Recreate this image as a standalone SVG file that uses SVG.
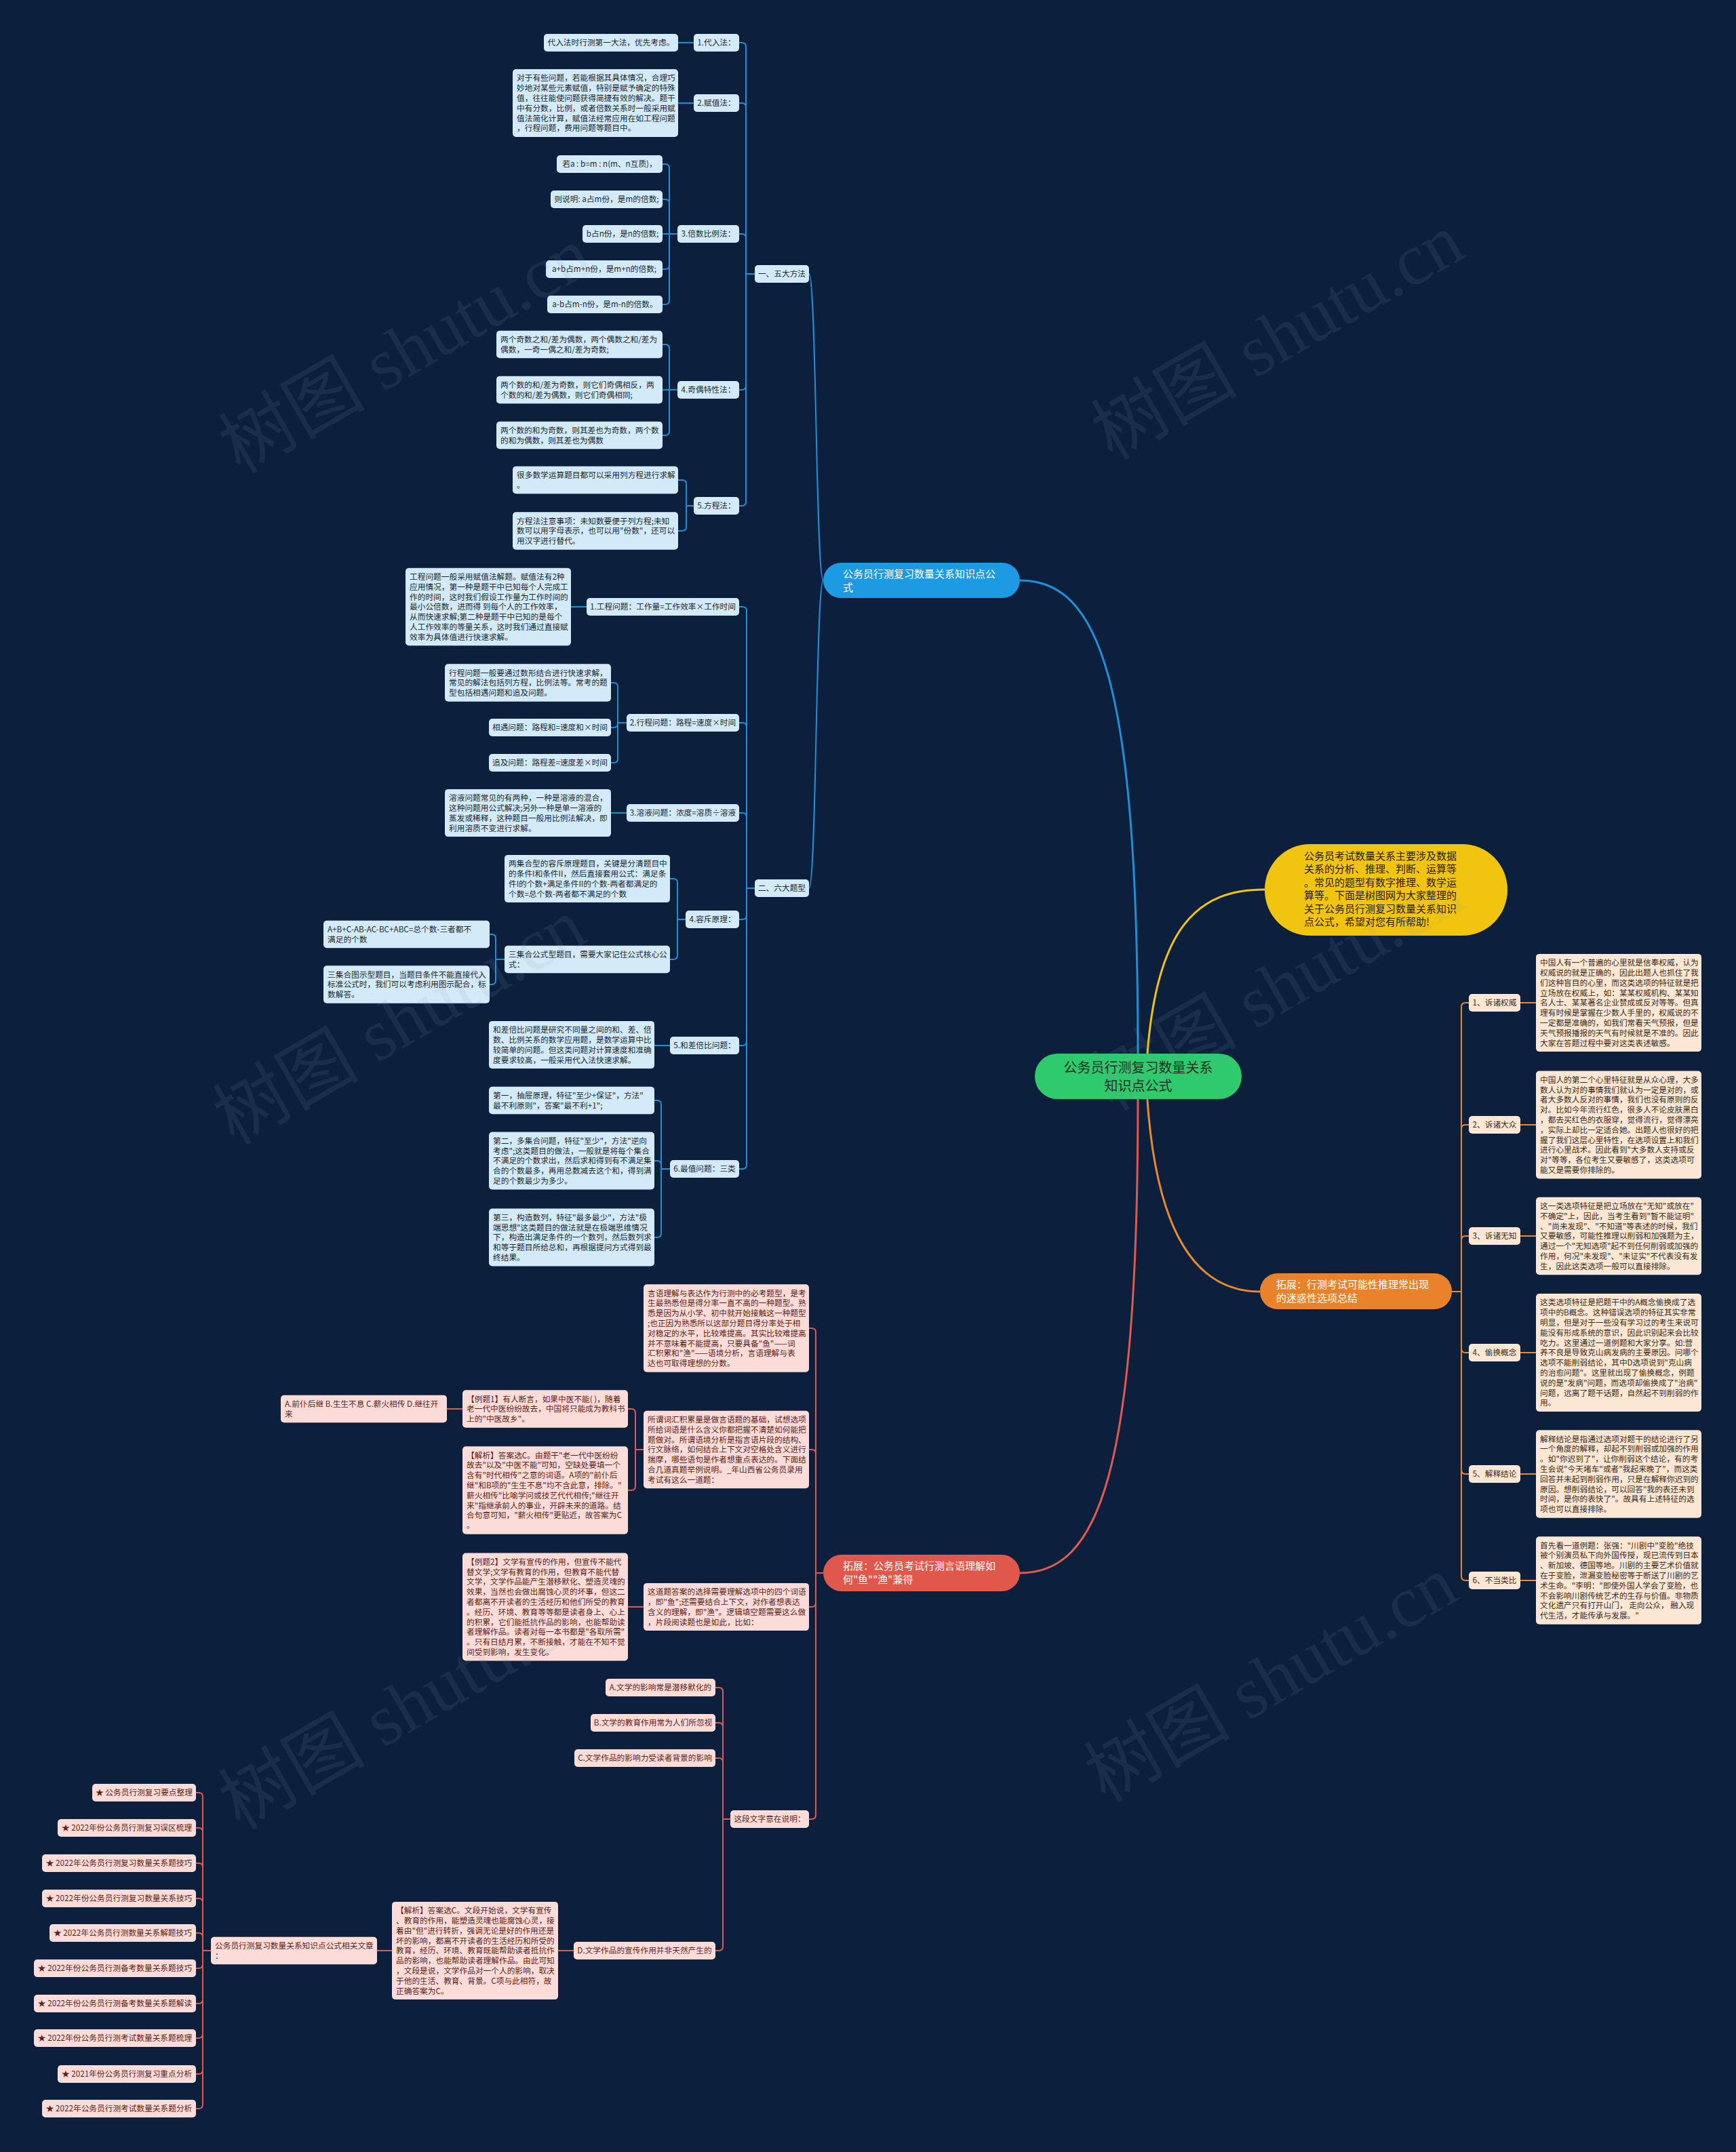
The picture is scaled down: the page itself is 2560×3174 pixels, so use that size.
<svg xmlns="http://www.w3.org/2000/svg" width="2560" height="3174" viewBox="0 0 2560 3174">
<style>
text{font-family:"Noto Sans CJK SC","Noto Sans",sans-serif}
.t{font-size:11.7px;fill:#1c2733}
.to{font-size:11.7px;fill:#3d2a17}
.tr{font-size:11.7px;fill:#5e1e17}
.c{text-anchor:middle}
.bb{fill:#d3ebf8}
.ob{fill:#fbe7d3}
.rb{fill:#fcdcd8}
.lb{fill:none;stroke:#1f8fd6;stroke-width:2}
.lo{fill:none;stroke:#e8892f;stroke-width:2}
.lr{fill:none;stroke:#df5a4e;stroke-width:2}
.main{fill:none;stroke-width:3}
.wm{font-family:"Liberation Serif","Noto Sans CJK SC",serif;font-size:108px;fill:#8a98ab;opacity:0.11}
</style>
<rect x="0" y="0" width="2560" height="3174" fill="#0c203d"/>

<g id="connectors">
<path class="main" stroke="#1f8fd6" d="M1678 1587L1678 1554C1678 1000 1620 856 1504 856"/>
<path class="main" stroke="#df5a4e" d="M1678 1587L1678 1621C1678 2175 1620 2320 1504 2320"/>
<path class="main" stroke="#f1c40f" d="M1690 1587C1700 1360 1770 1312 1865 1312"/>
<path class="main" stroke="#e8892f" d="M1690 1587C1700 1830 1770 1905 1858 1905"/>
<path class="lb" d="M1214 856C1203 856 1204 404 1193 404"/>
<path class="lb" d="M1214 856C1203 856 1204 1310 1193 1310"/>
<path class="lb" d="M1113 404H1100V69Q1100 63 1094 63H1090M1113 404H1100V158Q1100 152 1094 152H1090M1113 404H1100V351Q1100 345 1094 345H1090M1113 404H1100V569Q1100 575 1094 575H1090M1113 404H1100V740Q1100 746 1094 746H1090"/>
<path class="lb" d="M1023 63H1000M1023 152H1000"/>
<path class="lb" d="M999 345H987V248Q987 242 981 242H977M999 345H987V300Q987 294 981 294H977M999 345H977M999 345H987V391Q987 397 981 397H977M999 345H987V443Q987 449 981 449H977"/>
<path class="lb" d="M999 575H987V514Q987 508 981 508H977M999 575H977M999 575H987V636Q987 642 981 642H977"/>
<path class="lb" d="M1023 746H1012V714Q1012 708 1006 708H1000M1023 746H1012V777Q1012 783 1006 783H1000"/>
<path class="lb" d="M1113 1310H1101V901Q1101 895 1095 895H1090M1113 1310H1101V1072Q1101 1066 1095 1066H1090M1113 1310H1101V1205Q1101 1199 1095 1199H1090M1113 1310H1101V1350Q1101 1356 1095 1356H1090M1113 1310H1101V1536Q1101 1542 1095 1542H1090M1113 1310H1101V1718Q1101 1724 1095 1724H1090"/>
<path class="lb" d="M865 895H842"/>
<path class="lb" d="M924 1066H911V1013Q911 1007 905 1007H901M924 1066H911V1067Q911 1073 905 1073H901M924 1066H911V1119Q911 1125 905 1125H901"/>
<path class="lb" d="M924 1199H901"/>
<path class="lb" d="M1011 1356H999V1302Q999 1296 993 1296H988M1011 1356H999V1409Q999 1415 993 1415H988"/>
<path class="lb" d="M744 1415H731V1384Q731 1378 725 1378H722M744 1415H731V1446Q731 1452 725 1452H722"/>
<path class="lb" d="M988 1542H965"/>
<path class="lb" d="M988 1724H975V1629Q975 1623 969 1623H965M988 1724H975V1718Q975 1712 969 1712H965M988 1724H975V1819Q975 1825 969 1825H965"/>
<path class="lo" d="M2141 1905H2155V1485Q2155 1479 2161 1479H2166M2141 1905H2155V1665Q2155 1659 2161 1659H2166M2141 1905H2155V1829Q2155 1823 2161 1823H2166M2141 1905H2155V1989Q2155 1995 2161 1995H2166M2141 1905H2155V2168Q2155 2174 2161 2174H2166M2141 1905H2155V2325Q2155 2331 2161 2331H2166"/>
<path class="lo" d="M2242 1479H2265M2242 1659H2265M2242 1823H2265M2242 1995H2265M2242 2174H2265M2242 2331H2265"/>
<path class="lr" d="M1214 2320H1203V1965Q1203 1959 1197 1959H1193M1214 2320H1203V2144Q1203 2138 1197 2138H1193M1214 2320H1203V2364Q1203 2370 1197 2370H1193M1214 2320H1203V2677Q1203 2683 1197 2683H1193"/>
<path class="lr" d="M949 2138H937V2084Q937 2078 931 2078H926M949 2138H937V2192Q937 2198 931 2198H926"/>
<path class="lr" d="M682 2078H659M949 2370H926"/>
<path class="lr" d="M1077 2683H1066V2495Q1066 2489 1060 2489H1055M1077 2683H1066V2547Q1066 2541 1060 2541H1055M1077 2683H1066V2599Q1066 2593 1060 2593H1055M1077 2683H1066V2871Q1066 2877 1060 2877H1055"/>
<path class="lr" d="M846 2877H823M578 2877H556"/>
<path class="lr" d="M311 2877H299V2650Q299 2644 293 2644H289M311 2877H299V2702Q299 2696 293 2696H289M311 2877H299V2754Q299 2748 293 2748H289M311 2877H299V2806Q299 2800 293 2800H289M311 2877H299V2857Q299 2851 293 2851H289M311 2877H299V2897Q299 2903 293 2903H289M311 2877H299V2949Q299 2955 293 2955H289M311 2877H299V3000Q299 3006 293 3006H289M311 2877H299V3053Q299 3059 293 3059H289M311 2877H299V3104Q299 3110 293 3110H289"/>
</g>

<g id="center">
<rect x="1526" y="1554" width="305" height="67" rx="33" fill="#2fca6d"/>
<text class="c" x="1678.5" y="1582" font-size="20" fill="#16301e">公务员行测复习数量关系</text>
<text class="c" x="1678.5" y="1609" font-size="20" fill="#16301e">知识点公式</text>
</g>
<g id="intro">
<rect x="1865" y="1245" width="358" height="135" rx="67" fill="#f1c40f"/>
<text x="1923" y="1268" font-size="15" fill="#2a2000"><tspan x="1923" dy="0">公务员考试数量关系主要涉及数据</tspan><tspan x="1923" dy="19.4">关系的分析、推理、判断、运算等</tspan><tspan x="1923" dy="19.4">。常见的题型有数字推理、数学运</tspan><tspan x="1923" dy="19.4">算等。下面是树图网为大家整理的</tspan><tspan x="1923" dy="19.4">关于公务员行测复习数量关系知识</tspan><tspan x="1923" dy="19.4">点公式，希望对您有所帮助!</tspan></text>
</g>
<g id="blue-main">
<rect x="1214" y="830" width="290" height="52" rx="26" fill="#1d9be2"/>
<text x="1243" y="851.7" font-size="15" fill="#ffffff">公务员行测复习数量关系知识点公</text>
<text x="1243" y="871.7" font-size="15" fill="#ffffff">式</text>
</g>
<g id="orange-main">
<rect x="1858" y="1878" width="283" height="53" rx="26" fill="#e8832b"/>
<text x="1882" y="1899.7" font-size="15" fill="#ffffff">拓展：行测考试可能性推理常出现</text>
<text x="1882" y="1919.7" font-size="15" fill="#ffffff">的迷惑性选项总结</text>
</g>
<g id="red-main">
<rect x="1214" y="2293" width="290" height="54" rx="27" fill="#e0584c"/>
<text x="1243" y="2315.4" font-size="15" fill="#ffffff">拓展：公务员考试行测言语理解如</text>
<text x="1243" y="2335.4" font-size="15" fill="#ffffff">何"鱼""渔"兼得</text>
</g>

<g id="b-five"><rect class="bb" x="1113" y="391" width="80" height="26" rx="5"/><text class="t c" x="1153" y="408.4">一、五大方法</text></g>
<g id="b1"><rect class="bb" x="1023" y="50" width="67" height="26" rx="5"/><text class="t c" x="1056.5" y="67.4">1.代入法：</text></g>
<g id="b1t"><rect class="bb" x="802" y="50" width="198" height="26" rx="5"/><text class="t c" x="901" y="67.4">代入法时行测第一大法，优先考虑。</text></g>
<g id="b2"><rect class="bb" x="1023" y="139" width="67" height="26" rx="5"/><text class="t c" x="1056.5" y="156.4">2.赋值法：</text></g>
<g id="b2t"><rect class="bb" x="756" y="102.1" width="244" height="99.8" rx="5"/><text class="t" x="762" y="119.4"><tspan x="762" dy="0">对于有些问题，若能根据其具体情况，合理巧</tspan><tspan x="762" dy="14.8">妙地对某些元素赋值，特别是赋予确定的特殊</tspan><tspan x="762" dy="14.8">值，往往能使问题获得简捷有效的解决。题干</tspan><tspan x="762" dy="14.8">中有分数，比例，或者倍数关系时一般采用赋</tspan><tspan x="762" dy="14.8">值法简化计算，赋值法经常应用在如工程问题</tspan><tspan x="762" dy="14.8">，行程问题，费用问题等题目中。</tspan></text></g>
<g id="b3"><rect class="bb" x="999" y="332" width="91" height="26" rx="5"/><text class="t c" x="1044.5" y="349.4">3.倍数比例法：</text></g>
<g id="b3a"><rect class="bb" x="821" y="229" width="156" height="26" rx="5"/><text class="t c" x="899" y="246.4">若a : b=m : n(m、n互质)，</text></g>
<g id="b3b"><rect class="bb" x="812" y="281" width="165" height="26" rx="5"/><text class="t c" x="894.5" y="298.4">则说明: a占m份，是m的倍数;</text></g>
<g id="b3c"><rect class="bb" x="859" y="332" width="118" height="26" rx="5"/><text class="t c" x="918" y="349.4">b占n份，是n的倍数;</text></g>
<g id="b3d"><rect class="bb" x="805" y="384" width="172" height="26" rx="5"/><text class="t c" x="891" y="401.4">a+b占m+n份，是m+n的倍数;</text></g>
<g id="b3e"><rect class="bb" x="807" y="436" width="170" height="26" rx="5"/><text class="t c" x="892" y="453.4">a-b占m-n份，是m-n的倍数。</text></g>
<g id="b4"><rect class="bb" x="999" y="562" width="91" height="26" rx="5"/><text class="t c" x="1044.5" y="579.4">4.奇偶特性法：</text></g>
<g id="b4a"><rect class="bb" x="732" y="487.7" width="245" height="40.6" rx="5"/><text class="t" x="738" y="505"><tspan x="738" dy="0">两个奇数之和/差为偶数，两个偶数之和/差为</tspan><tspan x="738" dy="14.8">偶数，一奇一偶之和/差为奇数;</tspan></text></g>
<g id="b4b"><rect class="bb" x="732" y="554.7" width="245" height="40.6" rx="5"/><text class="t" x="738" y="572"><tspan x="738" dy="0">两个数的和/差为奇数，则它们奇偶相反，两</tspan><tspan x="738" dy="14.8">个数的和/差为偶数，则它们奇偶相同;</tspan></text></g>
<g id="b4c"><rect class="bb" x="732" y="621.7" width="245" height="40.6" rx="5"/><text class="t" x="738" y="639"><tspan x="738" dy="0">两个数的和为奇数，则其差也为奇数，两个数</tspan><tspan x="738" dy="14.8">的和为偶数，则其差也为偶数</tspan></text></g>
<g id="b5"><rect class="bb" x="1023" y="733" width="67" height="26" rx="5"/><text class="t c" x="1056.5" y="750.4">5.方程法：</text></g>
<g id="b5a"><rect class="bb" x="756" y="687.7" width="244" height="40.6" rx="5"/><text class="t" x="762" y="705"><tspan x="762" dy="0">很多数学运算题目都可以采用列方程进行求解</tspan><tspan x="762" dy="14.8">。</tspan></text></g>
<g id="b5b"><rect class="bb" x="756" y="755.3" width="244" height="55.4" rx="5"/><text class="t" x="762" y="772.6"><tspan x="762" dy="0">方程法注意事项：未知数要便于列方程;未知</tspan><tspan x="762" dy="14.8">数可以用字母表示，也可以用"份数"，还可以</tspan><tspan x="762" dy="14.8">用汉字进行替代。</tspan></text></g>

<g id="b-six"><rect class="bb" x="1113" y="1297" width="80" height="26" rx="5"/><text class="t c" x="1153" y="1314.4">二、六大题型</text></g>
<g id="s1"><rect class="bb" x="865" y="882" width="225" height="26" rx="5"/><text class="t c" x="977.5" y="899.4">1.工程问题：工作量=工作效率×工作时间</text></g>
<g id="s1t"><rect class="bb" x="598" y="837.7" width="244" height="114.6" rx="5"/><text class="t" x="604" y="855"><tspan x="604" dy="0">工程问题一般采用赋值法解题。赋值法有2种</tspan><tspan x="604" dy="14.8">应用情况，第一种是题干中已知每个人完成工</tspan><tspan x="604" dy="14.8">作的时间，这时我们假设工作量为工作时间的</tspan><tspan x="604" dy="14.8">最小公倍数，进而得 到每个人的工作效率，</tspan><tspan x="604" dy="14.8">从而快速求解;第二种是题干中已知的是每个</tspan><tspan x="604" dy="14.8">人工作效率的等量关系，这时我们通过直接赋</tspan><tspan x="604" dy="14.8">效率为具体值进行快速求解。</tspan></text></g>
<g id="s2"><rect class="bb" x="924" y="1053" width="166" height="26" rx="5"/><text class="t c" x="1007" y="1070.4">2.行程问题：路程=速度×时间</text></g>
<g id="s2a"><rect class="bb" x="656" y="979.3" width="245" height="55.4" rx="5"/><text class="t" x="662" y="996.6"><tspan x="662" dy="0">行程问题一般要通过数形结合进行快速求解，</tspan><tspan x="662" dy="14.8">常见的解法包括列方程，比例法等。常考的题</tspan><tspan x="662" dy="14.8">型包括相遇问题和追及问题。</tspan></text></g>
<g id="s2b"><rect class="bb" x="721" y="1060" width="180" height="26" rx="5"/><text class="t c" x="811" y="1077.4">相遇问题：路程和=速度和×时间</text></g>
<g id="s2c"><rect class="bb" x="721" y="1112" width="180" height="26" rx="5"/><text class="t c" x="811" y="1129.4">追及问题：路程差=速度差×时间</text></g>
<g id="s3"><rect class="bb" x="924" y="1186" width="166" height="26" rx="5"/><text class="t c" x="1007" y="1203.4">3.溶液问题：浓度=溶质÷溶液</text></g>
<g id="s3t"><rect class="bb" x="656" y="1163.9" width="245" height="70.2" rx="5"/><text class="t" x="662" y="1181.2"><tspan x="662" dy="0">溶液问题常见的有两种，一种是溶液的混合，</tspan><tspan x="662" dy="14.8">这种问题用公式解决;另外一种是单一溶液的</tspan><tspan x="662" dy="14.8">蒸发或稀释，这种题目一般用比例法解决，即</tspan><tspan x="662" dy="14.8">利用溶质不变进行求解。</tspan></text></g>
<g id="s4"><rect class="bb" x="1011" y="1343" width="79" height="26" rx="5"/><text class="t c" x="1050.5" y="1360.4">4.容斥原理：</text></g>
<g id="s4a"><rect class="bb" x="744" y="1260.9" width="244" height="70.2" rx="5"/><text class="t" x="750" y="1278.2"><tspan x="750" dy="0">两集合型的容斥原理题目，关键是分清题目中</tspan><tspan x="750" dy="14.8">的条件I和条件II，然后直接套用公式：满足条</tspan><tspan x="750" dy="14.8">件I的个数+满足条件II的个数-两者都满足的</tspan><tspan x="750" dy="14.8">个数=总个数-两者都不满足的个数</tspan></text></g>
<g id="s4b"><rect class="bb" x="744" y="1394.7" width="244" height="40.6" rx="5"/><text class="t" x="750" y="1412"><tspan x="750" dy="0">三集合公式型题目，需要大家记住公式核心公</tspan><tspan x="750" dy="14.8">式：</tspan></text></g>
<g id="s4b1"><rect class="bb" x="477" y="1357.7" width="245" height="40.6" rx="5"/><text class="t" x="483" y="1375"><tspan x="483" dy="0">A+B+C-AB-AC-BC+ABC=总个数-三者都不</tspan><tspan x="483" dy="14.8">满足的个数</tspan></text></g>
<g id="s4b2"><rect class="bb" x="477" y="1424.3" width="245" height="55.4" rx="5"/><text class="t" x="483" y="1441.6"><tspan x="483" dy="0">三集合图示型题目，当题目条件不能直接代入</tspan><tspan x="483" dy="14.8">标准公式时，我们可以考虑利用图示配合，标</tspan><tspan x="483" dy="14.8">数解答。</tspan></text></g>
<g id="s5"><rect class="bb" x="988" y="1529" width="102" height="26" rx="5"/><text class="t c" x="1039" y="1546.4">5.和差倍比问题：</text></g>
<g id="s5t"><rect class="bb" x="721" y="1505.9" width="244" height="70.2" rx="5"/><text class="t" x="727" y="1523.2"><tspan x="727" dy="0">和差倍比问题是研究不同量之间的和、差、倍</tspan><tspan x="727" dy="14.8">数、比例关系的数学应用题，是数学运算中比</tspan><tspan x="727" dy="14.8">较简单的问题。但这类问题对计算速度和准确</tspan><tspan x="727" dy="14.8">度要求较高，一般采用代入法快速求解。</tspan></text></g>
<g id="s6"><rect class="bb" x="988" y="1711" width="102" height="26" rx="5"/><text class="t c" x="1039" y="1728.4">6.最值问题：三类</text></g>
<g id="s6a"><rect class="bb" x="721" y="1602.7" width="244" height="40.6" rx="5"/><text class="t" x="727" y="1620"><tspan x="727" dy="0">第一，抽屉原理，特征"至少+保证"，方法"</tspan><tspan x="727" dy="14.8">最不利原则"，答案"最不利+1";</tspan></text></g>
<g id="s6b"><rect class="bb" x="721" y="1669.5" width="244" height="85" rx="5"/><text class="t" x="727" y="1686.8"><tspan x="727" dy="0">第二，多集合问题，特征"至少"，方法"逆向</tspan><tspan x="727" dy="14.8">考虑";这类题目的做法，一般就是将每个集合</tspan><tspan x="727" dy="14.8">不满足的个数求出，然后求和得到有不满足集</tspan><tspan x="727" dy="14.8">合的个数最多，再用总数减去这个和，得到满</tspan><tspan x="727" dy="14.8">足的个数最少为多少。</tspan></text></g>
<g id="s6c"><rect class="bb" x="721" y="1782.5" width="244" height="85" rx="5"/><text class="t" x="727" y="1799.8"><tspan x="727" dy="0">第三，构造数列，特征"最多最少"，方法"极</tspan><tspan x="727" dy="14.8">端思想"这类题目的做法就是在极端思维情况</tspan><tspan x="727" dy="14.8">下，构造出满足条件的一个数列，然后数列求</tspan><tspan x="727" dy="14.8">和等于题目所给总和，再根据提问方式得到最</tspan><tspan x="727" dy="14.8">终结果。</tspan></text></g>

<g id="o1"><rect class="ob" x="2166" y="1466" width="76" height="26" rx="5"/><text class="to c" x="2204" y="1483.4">1、诉诸权威</text></g>
<g id="o1t"><rect class="ob" x="2265" y="1406.9" width="244" height="144.2" rx="5"/><text class="to" x="2271" y="1424.2"><tspan x="2271" dy="0">中国人有一个普遍的心里就是信奉权威，认为</tspan><tspan x="2271" dy="14.8">权威说的就是正确的，因此出题人也抓住了我</tspan><tspan x="2271" dy="14.8">们这种盲目的心里，而这类选项的特征就是把</tspan><tspan x="2271" dy="14.8">立场放在权威上，如：某某权威机构、某某知</tspan><tspan x="2271" dy="14.8">名人士、某某著名企业赞成或反对等等。但真</tspan><tspan x="2271" dy="14.8">理有时候是掌握在少数人手里的，权威说的不</tspan><tspan x="2271" dy="14.8">一定都是准确的，如我们常看天气预报，但是</tspan><tspan x="2271" dy="14.8">天气预报播报的天气有时候就是不准的。因此</tspan><tspan x="2271" dy="14.8">大家在答题过程中要对这类表述敏感。</tspan></text></g>
<g id="o2"><rect class="ob" x="2166" y="1646" width="76" height="26" rx="5"/><text class="to c" x="2204" y="1663.4">2、诉诸大众</text></g>
<g id="o2t"><rect class="ob" x="2265" y="1579.5" width="244" height="159" rx="5"/><text class="to" x="2271" y="1596.8"><tspan x="2271" dy="0">中国人的第二个心里特征就是从众心理，大多</tspan><tspan x="2271" dy="14.8">数人认为对的事情我们就认为一定是对的，或</tspan><tspan x="2271" dy="14.8">者大多数人反对的事情，我们也没有原则的反</tspan><tspan x="2271" dy="14.8">对。比如今年流行红色，很多人不论皮肤黑白</tspan><tspan x="2271" dy="14.8">，都去买红色的衣服穿，觉得流行，觉得漂亮</tspan><tspan x="2271" dy="14.8">，实际上却比一定适合她。出题人也很好的把</tspan><tspan x="2271" dy="14.8">握了我们这层心里特性，在选项设置上和我们</tspan><tspan x="2271" dy="14.8">进行心里战术。因此看到"大多数人支持或反</tspan><tspan x="2271" dy="14.8">对"等等，各位考生又要敏感了，这类选项可</tspan><tspan x="2271" dy="14.8">能又是需要你排除的。</tspan></text></g>
<g id="o3"><rect class="ob" x="2166" y="1810" width="76" height="26" rx="5"/><text class="to c" x="2204" y="1827.4">3、诉诸无知</text></g>
<g id="o3t"><rect class="ob" x="2265" y="1765.7" width="244" height="114.6" rx="5"/><text class="to" x="2271" y="1783"><tspan x="2271" dy="0">这一类选项特征是把立场放在"无知"或放在"</tspan><tspan x="2271" dy="14.8">不确定"上，因此，当考生看到"暂不能证明"</tspan><tspan x="2271" dy="14.8">、"尚未发现"、"不知道"等表述的时候，我们</tspan><tspan x="2271" dy="14.8">又要敏感，可能性推理以削弱和加强题为主，</tspan><tspan x="2271" dy="14.8">通过一个"无知选项"起不到任何削弱或加强的</tspan><tspan x="2271" dy="14.8">作用，何况"未发现"、"未证实"不代表没有发</tspan><tspan x="2271" dy="14.8">生，因此这类选项一般可以直接排除。</tspan></text></g>
<g id="o4"><rect class="ob" x="2166" y="1982" width="76" height="26" rx="5"/><text class="to c" x="2204" y="1999.4">4、偷换概念</text></g>
<g id="o4t"><rect class="ob" x="2265" y="1908.1" width="244" height="173.8" rx="5"/><text class="to" x="2271" y="1925.4"><tspan x="2271" dy="0">这类选项特征是把题干中的A概念偷换成了选</tspan><tspan x="2271" dy="14.8">项中的B概念。这种错误选项的特征其实非常</tspan><tspan x="2271" dy="14.8">明显，但是对于一些没有学习过的考生来说可</tspan><tspan x="2271" dy="14.8">能没有形成系统的意识，因此识别起来会比较</tspan><tspan x="2271" dy="14.8">吃力。这里通过一道例题和大家分享。如:营</tspan><tspan x="2271" dy="14.8">养不良是导致克山病发病的主要原因。问哪个</tspan><tspan x="2271" dy="14.8">选项不能削弱结论，其中D选项说到"克山病</tspan><tspan x="2271" dy="14.8">的治愈问题"。这里就出现了偷换概念，例题</tspan><tspan x="2271" dy="14.8">说的是"发病"问题，而选项却偷换成了"治病"</tspan><tspan x="2271" dy="14.8">问题，远离了题干话题，自然起不到削弱的作</tspan><tspan x="2271" dy="14.8">用。</tspan></text></g>
<g id="o5"><rect class="ob" x="2166" y="2161" width="76" height="26" rx="5"/><text class="to c" x="2204" y="2178.4">5、解释结论</text></g>
<g id="o5t"><rect class="ob" x="2265" y="2109.3" width="244" height="129.4" rx="5"/><text class="to" x="2271" y="2126.6"><tspan x="2271" dy="0">解释结论是指通过选项对题干的结论进行了另</tspan><tspan x="2271" dy="14.8">一个角度的解释，却起不到削弱或加强的作用</tspan><tspan x="2271" dy="14.8">。如"你迟到了"，让你削弱这个结论，有的考</tspan><tspan x="2271" dy="14.8">生会说"今天堵车"或者"我起来晚了"，而这类</tspan><tspan x="2271" dy="14.8">回答并未起到削弱作用，只是在解释你迟到的</tspan><tspan x="2271" dy="14.8">原因。想削弱结论，可以回答"我的表还未到</tspan><tspan x="2271" dy="14.8">时间，是你的表快了"。故具有上述特征的选</tspan><tspan x="2271" dy="14.8">项也可以直接排除。</tspan></text></g>
<g id="o6"><rect class="ob" x="2166" y="2318" width="76" height="26" rx="5"/><text class="to c" x="2204" y="2335.4">6、不当类比</text></g>
<g id="o6t"><rect class="ob" x="2265" y="2266.3" width="244" height="129.4" rx="5"/><text class="to" x="2271" y="2283.6"><tspan x="2271" dy="0">首先看一道例题：张强："川剧中"变脸"绝技</tspan><tspan x="2271" dy="14.8">被个别演员私下向外国传授，现已流传到日本</tspan><tspan x="2271" dy="14.8">、新加坡、德国等地。川剧的主要艺术价值就</tspan><tspan x="2271" dy="14.8">在于变脸，泄漏变脸秘密等于断送了川剧的艺</tspan><tspan x="2271" dy="14.8">术生命。"李明："即使外国人学会了变脸，也</tspan><tspan x="2271" dy="14.8">不会影响川剧传统艺术的生存与价值。非物质</tspan><tspan x="2271" dy="14.8">文化遗产只有打开山门， 走向公众， 融入现</tspan><tspan x="2271" dy="14.8">代生活，才能传承与发展。"</tspan></text></g>

<g id="r1"><rect class="rb" x="949" y="1894.3" width="244" height="129.4" rx="5"/><text class="tr" x="955" y="1911.6"><tspan x="955" dy="0">言语理解与表达作为行测中的必考题型，是考</tspan><tspan x="955" dy="14.8">生最熟悉但是得分率一直不高的一种题型。熟</tspan><tspan x="955" dy="14.8">悉是因为从小学、初中就开始接触这一种题型</tspan><tspan x="955" dy="14.8">;也正因为熟悉所以这部分题目得分率处于相</tspan><tspan x="955" dy="14.8">对稳定的水平，比较难提高。其实比较难提高</tspan><tspan x="955" dy="14.8">并不意味着不能提高，只要具备"鱼"——词</tspan><tspan x="955" dy="14.8">汇积累和"渔"——语境分析，言语理解与表</tspan><tspan x="955" dy="14.8">达也可取得理想的分数。</tspan></text></g>
<g id="r2"><rect class="rb" x="949" y="2080.7" width="244" height="114.6" rx="5"/><text class="tr" x="955" y="2098"><tspan x="955" dy="0">所谓词汇积累量是做言语题的基础，试想选项</tspan><tspan x="955" dy="14.8">所给词语是什么含义你都把握不清楚如何能把</tspan><tspan x="955" dy="14.8">题做对。所谓语境分析是指言语片段的结构、</tspan><tspan x="955" dy="14.8">行文脉络，如何结合上下文对空格处含义进行</tspan><tspan x="955" dy="14.8">揣摩，哪些语句是作者想重点表达的。下面结</tspan><tspan x="955" dy="14.8">合几道真题举例说明。_年山西省公务员录用</tspan><tspan x="955" dy="14.8">考试有这么一道题：</tspan></text></g>
<g id="r2a"><rect class="rb" x="682" y="2050.3" width="244" height="55.4" rx="5"/><text class="tr" x="688" y="2067.6"><tspan x="688" dy="0">【例题1】有人断言，如果中医不能( )，随着</tspan><tspan x="688" dy="14.8">老一代中医纷纷故去，中国将只能成为教科书</tspan><tspan x="688" dy="14.8">上的"中医故乡"。</tspan></text></g>
<g id="r2a1"><rect class="rb" x="414" y="2057.7" width="245" height="40.6" rx="5"/><text class="tr" x="420" y="2075"><tspan x="420" dy="0">A.前仆后继 B.生生不息 C.薪火相传 D.继往开</tspan><tspan x="420" dy="14.8">来</tspan></text></g>
<g id="r2b"><rect class="rb" x="682" y="2133.3" width="244" height="129.4" rx="5"/><text class="tr" x="688" y="2150.6"><tspan x="688" dy="0">【解析】答案选C。由题干"老一代中医纷纷</tspan><tspan x="688" dy="14.8">故去"以及"中医不能"可知，空缺处要填一个</tspan><tspan x="688" dy="14.8">含有"时代相传"之意的词语。A项的"前仆后</tspan><tspan x="688" dy="14.8">继"和B项的"生生不息"均不含此意，排除。"</tspan><tspan x="688" dy="14.8">薪火相传"比喻学问或技艺代代相传;"继往开</tspan><tspan x="688" dy="14.8">来"指继承前人的事业，开辟未来的道路。结</tspan><tspan x="688" dy="14.8">合句意可知，"薪火相传"更贴近，故答案为C</tspan><tspan x="688" dy="14.8">。</tspan></text></g>
<g id="r3"><rect class="rb" x="949" y="2334.9" width="244" height="70.2" rx="5"/><text class="tr" x="955" y="2352.2"><tspan x="955" dy="0">这道题答案的选择需要理解选项中的四个词语</tspan><tspan x="955" dy="14.8">，即"鱼";还需要结合上下文，对作者想表达</tspan><tspan x="955" dy="14.8">含义的理解，即"渔"。逻辑填空题需要这么做</tspan><tspan x="955" dy="14.8">，片段阅读题也是如此，比如：</tspan></text></g>
<g id="r3a"><rect class="rb" x="682" y="2290.5" width="244" height="159" rx="5"/><text class="tr" x="688" y="2307.8"><tspan x="688" dy="0">【例题2】文学有宣传的作用，但宣传不能代</tspan><tspan x="688" dy="14.8">替文学;文学有教育的作用，但教育不能代替</tspan><tspan x="688" dy="14.8">文学，文学作品能产生潜移默化、塑造灵魂的</tspan><tspan x="688" dy="14.8">效果，当然也会做出腐蚀心灵的坏事，但这二</tspan><tspan x="688" dy="14.8">者都离不开读者的生活经历和他们所受的教育</tspan><tspan x="688" dy="14.8">。经历、环境、教育等等都是读者身上、心上</tspan><tspan x="688" dy="14.8">的积累，它们能抵抗作品的影响，也能帮助读</tspan><tspan x="688" dy="14.8">者理解作品。读者对每一本书都是"各取所需"</tspan><tspan x="688" dy="14.8">。只有日结月累，不断接触，才能在不知不觉</tspan><tspan x="688" dy="14.8">间受到影响，发生变化。</tspan></text></g>
<g id="r4"><rect class="rb" x="1077" y="2670" width="116" height="26" rx="5"/><text class="tr c" x="1135" y="2687.4">这段文字意在说明：</text></g>
<g id="ra"><rect class="rb" x="893" y="2476" width="162" height="26" rx="5"/><text class="tr c" x="974" y="2493.4">A.文学的影响常是潜移默化的</text></g>
<g id="rbx"><rect class="rb" x="871" y="2528" width="184" height="26" rx="5"/><text class="tr c" x="963" y="2545.4">B.文学的教育作用常为人们所忽视</text></g>
<g id="rc"><rect class="rb" x="847" y="2580" width="208" height="26" rx="5"/><text class="tr c" x="951" y="2597.4">C.文学作品的影响力受读者背景的影响</text></g>
<g id="rd"><rect class="rb" x="846" y="2864" width="209" height="26" rx="5"/><text class="tr c" x="950.5" y="2881.4">D.文学作品的宣传作用并非天然产生的</text></g>
<g id="rdj"><rect class="rb" x="578" y="2804.9" width="245" height="144.2" rx="5"/><text class="tr" x="584" y="2822.2"><tspan x="584" dy="0">【解析】答案选C。文段开始说，文学有宣传</tspan><tspan x="584" dy="14.8">、教育的作用，能塑造灵魂也能腐蚀心灵，接</tspan><tspan x="584" dy="14.8">着由"但"进行转折，强调无论是好的作用还是</tspan><tspan x="584" dy="14.8">坏的影响，都离不开读者的生活经历和所受的</tspan><tspan x="584" dy="14.8">教育，经历、环境、教育既能帮助读者抵抗作</tspan><tspan x="584" dy="14.8">品的影响，也能帮助读者理解作品。由此可知</tspan><tspan x="584" dy="14.8">，文段是说，文学作品对一个人的影响，取决</tspan><tspan x="584" dy="14.8">于他的生活、教育、背景。C项与此相符，故</tspan><tspan x="584" dy="14.8">正确答案为C。</tspan></text></g>
<g id="rl"><rect class="rb" x="311" y="2856.7" width="245" height="40.6" rx="5"/><text class="tr" x="317" y="2874"><tspan x="317" dy="0">公务员行测复习数量关系知识点公式相关文章</tspan><tspan x="317" dy="14.8">：</tspan></text></g>
<g id="l1"><rect class="rb" x="136" y="2631" width="153" height="26" rx="5"/><text class="tr c" x="212.5" y="2648.4">★ 公务员行测复习要点整理</text></g>
<g id="l2"><rect class="rb" x="85" y="2683" width="204" height="26" rx="5"/><text class="tr c" x="187" y="2700.4">★ 2022年份公务员行测复习误区梳理</text></g>
<g id="l3"><rect class="rb" x="62" y="2735" width="227" height="26" rx="5"/><text class="tr c" x="175.5" y="2752.4">★ 2022年公务员行测复习数量关系题技巧</text></g>
<g id="l4"><rect class="rb" x="62" y="2787" width="227" height="26" rx="5"/><text class="tr c" x="175.5" y="2804.4">★ 2022年份公务员行测复习数量关系技巧</text></g>
<g id="l5"><rect class="rb" x="73" y="2838" width="216" height="26" rx="5"/><text class="tr c" x="181" y="2855.4">★ 2022年公务员行测数量关系解题技巧</text></g>
<g id="l6"><rect class="rb" x="50" y="2890" width="239" height="26" rx="5"/><text class="tr c" x="169.5" y="2907.4">★ 2022年份公务员行测备考数量关系题技巧</text></g>
<g id="l7"><rect class="rb" x="50" y="2942" width="239" height="26" rx="5"/><text class="tr c" x="169.5" y="2959.4">★ 2022年份公务员行测备考数量关系题解读</text></g>
<g id="l8"><rect class="rb" x="50" y="2993" width="239" height="26" rx="5"/><text class="tr c" x="169.5" y="3010.4">★ 2022年份公务员行测考试数量关系题梳理</text></g>
<g id="l9"><rect class="rb" x="85" y="3046" width="204" height="26" rx="5"/><text class="tr c" x="187" y="3063.4">★ 2021年份公务员行测复习重点分析</text></g>
<g id="l10"><rect class="rb" x="62" y="3097" width="227" height="26" rx="5"/><text class="tr c" x="175.5" y="3114.4">★ 2022年公务员行测考试数量关系题分析</text></g>

<g id="watermarks">
<text class="wm" transform="translate(354 700) rotate(-30)">树图 shutu.cn</text>
<text class="wm" transform="translate(1640 680) rotate(-30)">树图 shutu.cn</text>
<text class="wm" transform="translate(345 1690) rotate(-30)">树图 shutu.cn</text>
<text class="wm" transform="translate(1640 1640) rotate(-30)">树图 shutu.cn</text>
<text class="wm" transform="translate(354 2700) rotate(-30)">树图 shutu.cn</text>
<text class="wm" transform="translate(1630 2660) rotate(-30)">树图 shutu.cn</text>
</g>
</svg>
